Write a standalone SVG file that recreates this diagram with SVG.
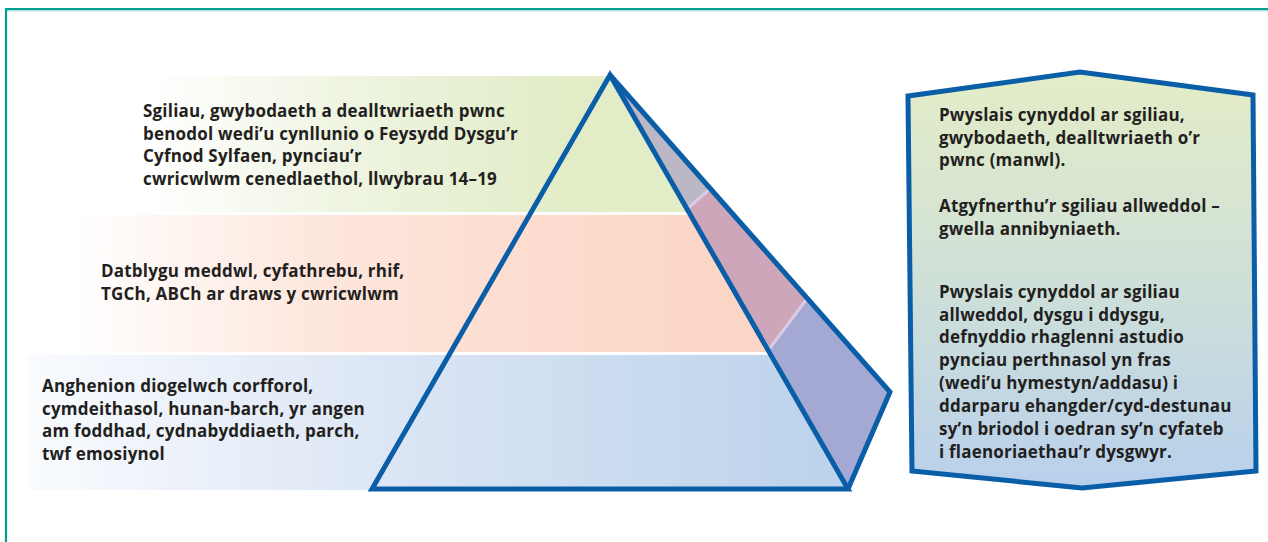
<svg xmlns="http://www.w3.org/2000/svg" width="1268" height="542" viewBox="0 0 1268 542">
<defs>
<style>
.t{font-family:"Open Sans","Noto Sans","DejaVu Sans",sans-serif;font-weight:700;font-size:17px;letter-spacing:0.2px;fill:#231f20}
.edge{fill:none;stroke:#0a5ea8;stroke-width:5;stroke-linejoin:miter}
.div{stroke:#dccbe4;stroke-width:3}
</style>
<linearGradient id="gGreen" gradientUnits="userSpaceOnUse" x1="150" y1="0" x2="560" y2="0">
<stop offset="0" stop-color="#ffffff"/>
<stop offset="0.5" stop-color="#eef4e0"/>
<stop offset="1" stop-color="#e2edc8"/>
</linearGradient>
<linearGradient id="gOrange" gradientUnits="userSpaceOnUse" x1="75" y1="0" x2="700" y2="0">
<stop offset="0" stop-color="#ffffff"/>
<stop offset="0.4" stop-color="#fde6dc"/>
<stop offset="1" stop-color="#fbd6c6"/>
</linearGradient>
<linearGradient id="gBlue" gradientUnits="userSpaceOnUse" x1="28" y1="0" x2="850" y2="0">
<stop offset="0" stop-color="#f9fbfe"/>
<stop offset="0.45" stop-color="#dbe5f4"/>
<stop offset="1" stop-color="#bad2eb"/>
</linearGradient>
<linearGradient id="gBox" gradientUnits="userSpaceOnUse" x1="0" y1="72" x2="0" y2="488">
<stop offset="0" stop-color="#e4edc7"/>
<stop offset="0.5" stop-color="#cfe0d8"/>
<stop offset="1" stop-color="#b8d0ec"/>
</linearGradient>
</defs>

<g id="frame">
<line x1="5" y1="9" x2="1268" y2="9" stroke="#009e8f" stroke-width="2.2"/>
<line x1="7" y1="10.8" x2="1268" y2="10.8" stroke="#8fd6cc" stroke-width="1"/>
<line x1="6" y1="8" x2="6" y2="542" stroke="#009e8f" stroke-width="2.2"/>
</g>

<g id="band-top">
<polygon points="150,76 611,76 689,212 150,212" fill="url(#gGreen)"/>
<text class="t" x="143" y="117">Sgiliau, gwybodaeth a dealltwriaeth pwnc</text>
<text class="t" x="143" y="139.5">benodol wedi’u cynllunio o Feysydd Dysgu’r</text>
<text class="t" x="143" y="162">Cyfnod Sylfaen, pynciau’r</text>
<text class="t" x="143" y="184.5">cwricwlwm cenedlaethol, llwybrau 14–19</text>
</g>

<g id="band-middle">
<polygon points="75,215 691,215 769,352 75,352" fill="url(#gOrange)"/>
<text class="t" x="101" y="277">Datblygu meddwl, cyfathrebu, rhif,</text>
<text class="t" x="101" y="299.5">TGCh, ABCh ar draws y cwricwlwm</text>
</g>

<g id="band-bottom">
<polygon points="28,355 771,355 848,490 28,490" fill="url(#gBlue)"/>
<text class="t" x="42" y="392">Anghenion diogelwch corfforol,</text>
<text class="t" x="42" y="414.5">cymdeithasol, hunan-barch, yr angen</text>
<text class="t" x="42" y="437">am foddhad, cydnabyddiaeth, parch,</text>
<text class="t" x="42" y="459.5">twf emosiynol</text>
</g>

<g id="pyramid">
<polygon points="610,75 710,189 688,208" fill="#bcb7c5"/>
<polygon points="710,189 806,300 770,348 688,208" fill="#cda6b9"/>
<polygon points="806,300 890,392 848,489 770,348" fill="#a4a9d4"/>
<line class="div" x1="688" y1="208" x2="710" y2="189"/>
<line class="div" x1="770" y1="348" x2="806" y2="300"/>
<polygon class="edge" points="610,75 372,489 848,489"/>
<polyline class="edge" points="610,75 890,392 848,489"/>
</g>

<g id="side-panel">
<polygon points="908,96 1080,72 1253,95 1256,471 1082,488 912,471" fill="url(#gBox)" stroke="#0a5ea8" stroke-width="5" stroke-linejoin="miter"/>
<text class="t" x="939" y="121">Pwyslais cynyddol ar sgiliau,</text>
<text class="t" x="939" y="143.5">gwybodaeth, dealltwriaeth o’r</text>
<text class="t" x="939" y="166">pwnc (manwl).</text>
<text class="t" x="939" y="212">Atgyfnerthu’r sgiliau allweddol –</text>
<text class="t" x="939" y="234.5">gwella annibyniaeth.</text>
<text class="t" x="939" y="298">Pwyslais cynyddol ar sgiliau</text>
<text class="t" x="939" y="320.5">allweddol, dysgu i ddysgu,</text>
<text class="t" x="939" y="343">defnyddio rhaglenni astudio</text>
<text class="t" x="939" y="366">pynciau perthnasol yn fras</text>
<text class="t" x="939" y="389">(wedi’u hymestyn/addasu) i</text>
<text class="t" x="939" y="412">ddarparu ehangder/cyd-destunau</text>
<text class="t" x="939" y="435">sy’n briodol i oedran sy’n cyfateb</text>
<text class="t" x="939" y="458">i flaenoriaethau’r dysgwyr.</text>
</g>
</svg>
